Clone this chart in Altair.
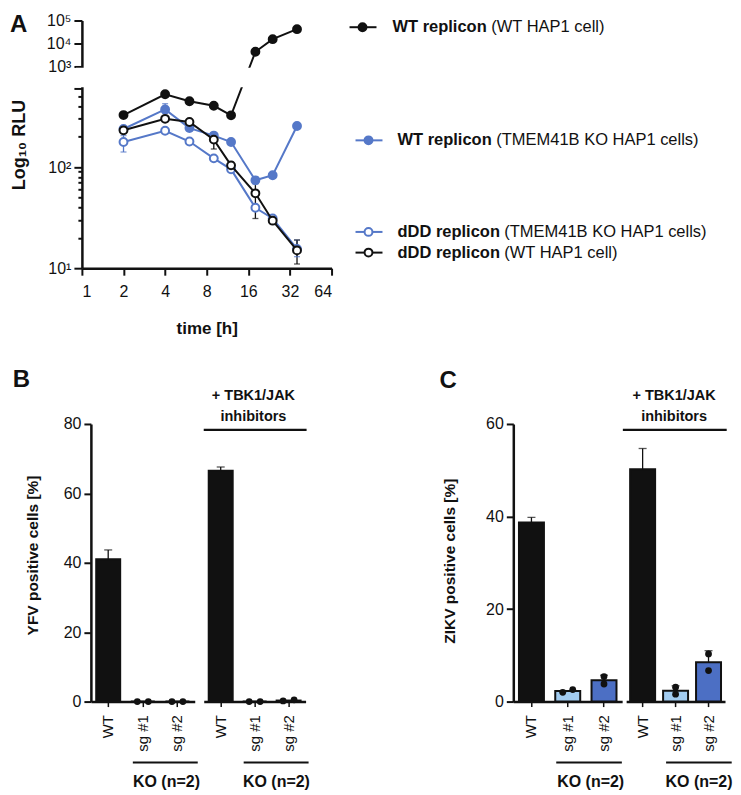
import math
import altair as alt
import pandas as pd

FONT = "Liberation Sans"
BLACK = "#111111"
BLUE = "#5578c8"
LIGHT_BLUE = "#a2ccf0"
DARK_BLUE = "#4c6fc4"

# ---------------- Panel A data ----------------
times = [2, 4, 6, 9, 12, 18, 24, 36]
series = [
    "WT replicon (TMEM41B KO HAP1 cells)",
    "dDD replicon (TMEM41B KO HAP1 cells)",
    "dDD replicon (WT HAP1 cell)",
    "WT replicon (WT HAP1 cell)",
]
rlu_wt_ko = [238, 372, 243, 205, 177, 74, 83, 255]
rlu_ddd_ko = [177, 229, 179, 122, 95, 39.6, 31, 15.5]
rlu_ddd_wt = [231, 300, 279, 187, 104, 55, 29.5, 15]
rlu_wt_wt = [327, 525, 448, 404, 325, 4360, 15400, 42000]
rlu_values = [rlu_wt_ko, rlu_ddd_ko, rlu_ddd_wt, rlu_wt_wt]

err_series = [0, 0, 0, 0, 1, 1, 1, 2, 2, 2, 2, 2]
err_time = [4, 6, 12, 18, 2, 12, 36, 2, 9, 12, 18, 36]
err_low = [340, 228, 170, 68, 141, 90, 13, 215, 151, 97, 31, 11]
err_high = [424, 262, 184, 80, 205, 100, 19, 250, 210, 112, 78, 19]

# ---------------- Panels B / C data ----------------
cats = ["WT", "sg #1", "sg #2"]
yfv_mean = [41.0, 0.0, 0.0]
yfv_hi = [43.7, None, None]
yfv_rep1 = [None, 0.0, 0.0]
yfv_rep2 = [None, 0.0, 0.0]
yfv_inh_mean = [66.5, 0.0, 0.3]
yfv_inh_hi = [67.6, None, None]
yfv_inh_rep1 = [None, 0.0, 0.2]
yfv_inh_rep2 = [None, 0.0, 0.5]

zikv_mean = [38.7, 2.3, 4.6]
zikv_hi = [39.8, None, 5.7]
zikv_rep1 = [None, 2.0, 5.4]
zikv_rep2 = [None, 2.6, 3.8]
zikv_inh_mean = [50.2, 2.35, 8.5]
zikv_inh_hi = [54.7, 3.4, 11.0]
zikv_inh_rep1 = [None, 3.1, 10.3]
zikv_inh_rep2 = [None, 1.6, 6.7]

one = pd.DataFrame({"k": [0]})

# ---------------- Panel A chart ----------------
W_A, H_A = 250, 248
strokes = [BLUE, BLUE, BLACK, BLACK]
fills = [BLUE, "white", "white", BLACK]

rows = []
for s, vals in zip(series, rlu_values):
    for t, v in zip(times, vals):
        rows.append({"series": s, "time": t, "rlu": v})
df_a = pd.DataFrame(rows)
df_err = pd.DataFrame({
    "series": [series[i] for i in err_series],
    "time": err_time, "lo": err_low, "hi": err_high,
})

log600 = math.log10(600)
yscale_a = alt.Scale(type="linear", domain=[1, log600, 3, 5], range=[H_A, 68, 46, 0],
                     nice=False, zero=False)
xscale_a = alt.Scale(type="log", base=2, domain=[1, 64], nice=False)
minor = [math.log10(k) for k in range(20, 100, 10)] + [math.log10(k) for k in range(200, 600, 100)]
yvals_a = sorted([1, 2, log600, 3, 4, 5] + minor)
label_expr = ("datum.value == 1 ? '10¹' : datum.value == 2 ? '10²' : datum.value == 3 ? '10³' : "
              "datum.value == 4 ? '10⁴' : datum.value == 5 ? '10⁵' : ''")
yaxis_a = alt.Axis(values=yvals_a, labelExpr=label_expr, title=None, labelFontSize=16,
                   labelPadding=3, grid=False,
                   tickSize={"condition": {"test": "datum.value % 1 == 0 || datum.value > 2.75", "value": 8}, "value": 4})
xaxis_a = alt.Axis(values=[1, 2, 4, 8, 16, 32, 64], format="d", title="time [h]", titleFontSize=17,
                   titleFontWeight="bold", titlePadding=21, labelFontSize=16, labelPadding=8,
                   tickSize=7, grid=False)

X_a = alt.X("time:Q", scale=xscale_a, axis=xaxis_a)

base_a = alt.Chart(df_a).transform_calculate(lv="log(datum.rlu)/LN10")
err_base = alt.Chart(df_err).transform_calculate(lo_lv="log(datum.lo)/LN10", hi_lv="log(datum.hi)/LN10")
err_color = alt.Color("series:N", scale=alt.Scale(domain=series, range=strokes), legend=None)

layers_a = [
    err_base.mark_rule(strokeWidth=1.3).encode(
        x=X_a, y=alt.Y("lo_lv:Q", scale=yscale_a, axis=yaxis_a), y2="hi_lv:Q", color=err_color),
    err_base.mark_tick(orient="horizontal", size=6, thickness=1.3).encode(
        x=X_a, y=alt.Y("lo_lv:Q", scale=yscale_a, axis=yaxis_a), color=err_color),
    err_base.mark_tick(orient="horizontal", size=6, thickness=1.3).encode(
        x=X_a, y=alt.Y("hi_lv:Q", scale=yscale_a, axis=yaxis_a), color=err_color),
]
for i, s in enumerate(series):
    sub = base_a.transform_filter(alt.datum.series == s)
    layers_a.append(sub.mark_line(color=strokes[i], strokeWidth=2).encode(
        x=X_a, y=alt.Y("lv:Q", scale=yscale_a, axis=yaxis_a)))
    layers_a.append(sub.mark_circle(fill=fills[i], stroke=strokes[i], strokeWidth=2, size=62, opacity=1).encode(
        x=X_a, y=alt.Y("lv:Q", scale=yscale_a, axis=yaxis_a)))

# axis break (white band between the two y ranges)
layers_a.append(alt.Chart(one).mark_rect(color="white").encode(
    x=alt.value(-6), x2=alt.value(W_A + 3), y=alt.value(47.3), y2=alt.value(66.7)))

# legend
legend_entries = [
    (3, 6.7, 268, 311, 99),
    (0, 120, 274, 316, 99),
    (1, 211.7, 274, 316, 107),
    (2, 232.4, 274, 316, 107),
]
for idx, ly, lx, tx, bw in legend_entries:
    name = series[idx]
    bold, rest = name.split(" (", 1)
    rest = "(" + rest
    layers_a.append(alt.Chart(one).mark_rule(color=strokes[idx], strokeWidth=2).encode(
        x=alt.value(lx), x2=alt.value(lx + 27), y=alt.value(ly)))
    layers_a.append(alt.Chart(one).mark_circle(fill=fills[idx], stroke=strokes[idx], strokeWidth=2,
                                               size=62, opacity=1).encode(
        x=alt.value(lx + 13), y=alt.value(ly)))
    layers_a.append(alt.Chart(one).mark_text(align="left", baseline="middle", fontSize=16.5,
                                             fontWeight="bold").encode(
        x=alt.value(tx), y=alt.value(ly), text=alt.value(bold)))
    layers_a.append(alt.Chart(one).mark_text(align="left", baseline="middle", fontSize=16.5).encode(
        x=alt.value(tx + bw), y=alt.value(ly), text=alt.value(rest)))

layers_a.append(alt.Chart(one).mark_text(align="center", baseline="middle", fontSize=18,
                                         fontWeight="bold", angle=270).encode(
    x=alt.value(-62), y=alt.value(124.7), text=alt.value("Log₁₀ RLU")))
layers_a.append(alt.Chart(one).mark_text(align="left", baseline="alphabetic", fontSize=24,
                                         fontWeight="bold").encode(
    x=alt.value(-72), y=alt.value(11.7), text=alt.value("A")))
# invisible anchor fixing the left extent of the figure
layers_a.append(alt.Chart(one).mark_rule(opacity=0, strokeWidth=1).encode(
    x=alt.value(-73.5), x2=alt.value(-60), y=alt.value(100)))

chart_a = alt.layer(*layers_a).properties(width=W_A, height=H_A)

# ---------------- Bar panels ----------------
H_B = 278


def bar_panel(mean, hi, rep1, rep2, width, fills_, ymax, yvals, show_y, dot_dx, bar_w,
              annots):
    df = pd.DataFrame({"cat": cats, "mean": mean, "hi": hi})
    dots = pd.DataFrame({"cat": cats * 2, "rep": [1] * 3 + [2] * 3,
                         "val": list(rep1) + list(rep2)}).dropna()
    xaxis = alt.Axis(title=None, labelAngle=-90, labelFontSize=15, labelPadding=8, tickSize=5,
                     tickWidth=1.5, grid=False)
    yaxis = alt.Axis(values=yvals, title=None, labelFontSize=16, labelPadding=3, tickSize=7,
                     grid=False) if show_y else None
    xs = alt.Scale(domain=cats, paddingInner=0, paddingOuter=0)
    ys = alt.Scale(domain=[0, ymax], nice=False, zero=True)

    def X(bp=0.5):
        return alt.X("cat:N", sort=cats, scale=xs, axis=xaxis, bandPosition=bp)

    if fills_ is None:
        fill_enc = alt.value(BLACK)
    else:
        fill_enc = alt.Fill("cat:N", scale=alt.Scale(domain=cats, range=fills_), legend=None)

    layers = [
        alt.Chart(df).mark_bar(size=bar_w, stroke=BLACK, strokeWidth=2).encode(
            x=X(), y=alt.Y("mean:Q", scale=ys, axis=yaxis), fill=fill_enc),
        alt.Chart(df).transform_filter("isValid(datum.hi)").mark_rule(color=BLACK, strokeWidth=1.3).encode(
            x=X(), y=alt.Y("mean:Q", scale=ys, axis=yaxis), y2="hi:Q"),
        alt.Chart(df).transform_filter("isValid(datum.hi)").mark_tick(
            color=BLACK, size=8, thickness=1.3, orient="horizontal").encode(
            x=X(), y=alt.Y("hi:Q", scale=ys, axis=yaxis)),
    ]
    step = width / 3.0
    for c in cats[1:]:
        for r, sign in ((1, -1), (2, 1)):
            bp = 0.5 + sign * dot_dx[c] / step
            layers.append(
                alt.Chart(dots).transform_filter(
                    (alt.datum.cat == c) & (alt.datum.rep == r)
                ).mark_circle(size=46, color=BLACK, opacity=1).encode(
                    x=X(bp), y=alt.Y("val:Q", scale=ys, axis=yaxis)))
    for a in annots:
        kind = a[0]
        if kind == "rule":
            _, x1, x2, yy = a
            layers.append(alt.Chart(one).mark_rule(color=BLACK, strokeWidth=2.2).encode(
                x=alt.value(x1), x2=alt.value(x2), y=alt.value(yy)))
        elif kind == "text":
            _, xx, yy, txt, size = a
            layers.append(alt.Chart(one).mark_text(align="center", baseline="middle", fontSize=size,
                                                   fontWeight="bold").encode(
                x=alt.value(xx), y=alt.value(yy), text=alt.value(txt)))
        elif kind == "vtitle":
            _, xx, yy, txt, size = a
            layers.append(alt.Chart(one).mark_text(align="center", baseline="middle", fontSize=size,
                                                   fontWeight="bold", angle=270).encode(
                x=alt.value(xx), y=alt.value(yy), text=alt.value(txt)))
        elif kind == "letter":
            _, xx, yy, txt = a
            layers.append(alt.Chart(one).mark_text(align="left", baseline="alphabetic", fontSize=24,
                                                   fontWeight="bold").encode(
                x=alt.value(xx), y=alt.value(yy), text=alt.value(txt)))
    return alt.layer(*layers).properties(width=width, height=H_B)


KO = "KO (n=2)"
b1 = bar_panel(yfv_mean, yfv_hi, yfv_rep1, yfv_rep2, 104, None, 80,
               [0, 20, 40, 60, 80], True, {"sg #1": 5.5, "sg #2": 5.5}, 24,
               [("rule", 42, 107, H_B + 61), ("text", 75.7, H_B + 81, KO, 16),
                ("vtitle", -58, 131.7, "YFV positive cells [%]", 15.5),
                ("letter", -78.3, -37, "B")])
b2 = bar_panel(yfv_inh_mean, yfv_inh_hi, yfv_inh_rep1, yfv_inh_rep2, 102, None, 80,
               [0, 20, 40, 60, 80], False, {"sg #1": 5.5, "sg #2": 5.5}, 24,
               [("rule", 40, 105, H_B + 61), ("text", 72.8, H_B + 81, KO, 16),
                ("rule", 0, 103, 6), ("text", 49.8, -28, "+ TBK1/JAK", 14.5),
                ("text", 49.8, -7.3, "inhibitors", 14.5)])
c1 = bar_panel(zikv_mean, zikv_hi, zikv_rep1, zikv_rep2, 109, [BLACK, LIGHT_BLUE, DARK_BLUE], 60,
               [0, 20, 40, 60], True, {"sg #1": 5, "sg #2": 0}, 25,
               [("rule", 43, 108.7, H_B + 61), ("text", 77.5, H_B + 81, KO, 16),
                ("vtitle", -63, 137.4, "ZIKV positive cells [%]", 15.5),
                ("letter", -74, -36, "C")])
c2 = bar_panel(zikv_inh_mean, zikv_inh_hi, zikv_inh_rep1, zikv_inh_rep2, 99, [BLACK, LIGHT_BLUE, DARK_BLUE], 60,
               [0, 20, 40, 60], False, {"sg #1": 0, "sg #2": 0}, 25,
               [("rule", 40, 105.7, H_B + 61), ("text", 73, H_B + 81, KO, 16),
                ("rule", -3.3, 100.7, 6), ("text", 48, -28, "+ TBK1/JAK", 14.5),
                ("text", 48, -7.3, "inhibitors", 14.5)])


def spacer(w):
    return alt.Chart(one).mark_point(opacity=0).encode(
        x=alt.value(0), y=alt.value(0)).properties(width=w, height=1)


row2 = alt.hconcat(spacer(5), b1, spacer(1), b2, spacer(200), c1, c2, spacing=4, bounds="flush")

chart = alt.vconcat(chart_a, row2, spacing=156, bounds="flush").properties(
    padding={"left": 0, "top": 4, "right": 0, "bottom": 0}
).configure(font=FONT).configure_view(stroke=None).configure_axis(
    domainColor=BLACK, tickColor=BLACK, labelColor=BLACK, titleColor=BLACK,
    domainWidth=2.5, tickWidth=2, labelFont=FONT, titleFont=FONT
).configure_text(font=FONT, color=BLACK)

chart.save("out.html", embed_options={"renderer": "svg", "actions": False})
